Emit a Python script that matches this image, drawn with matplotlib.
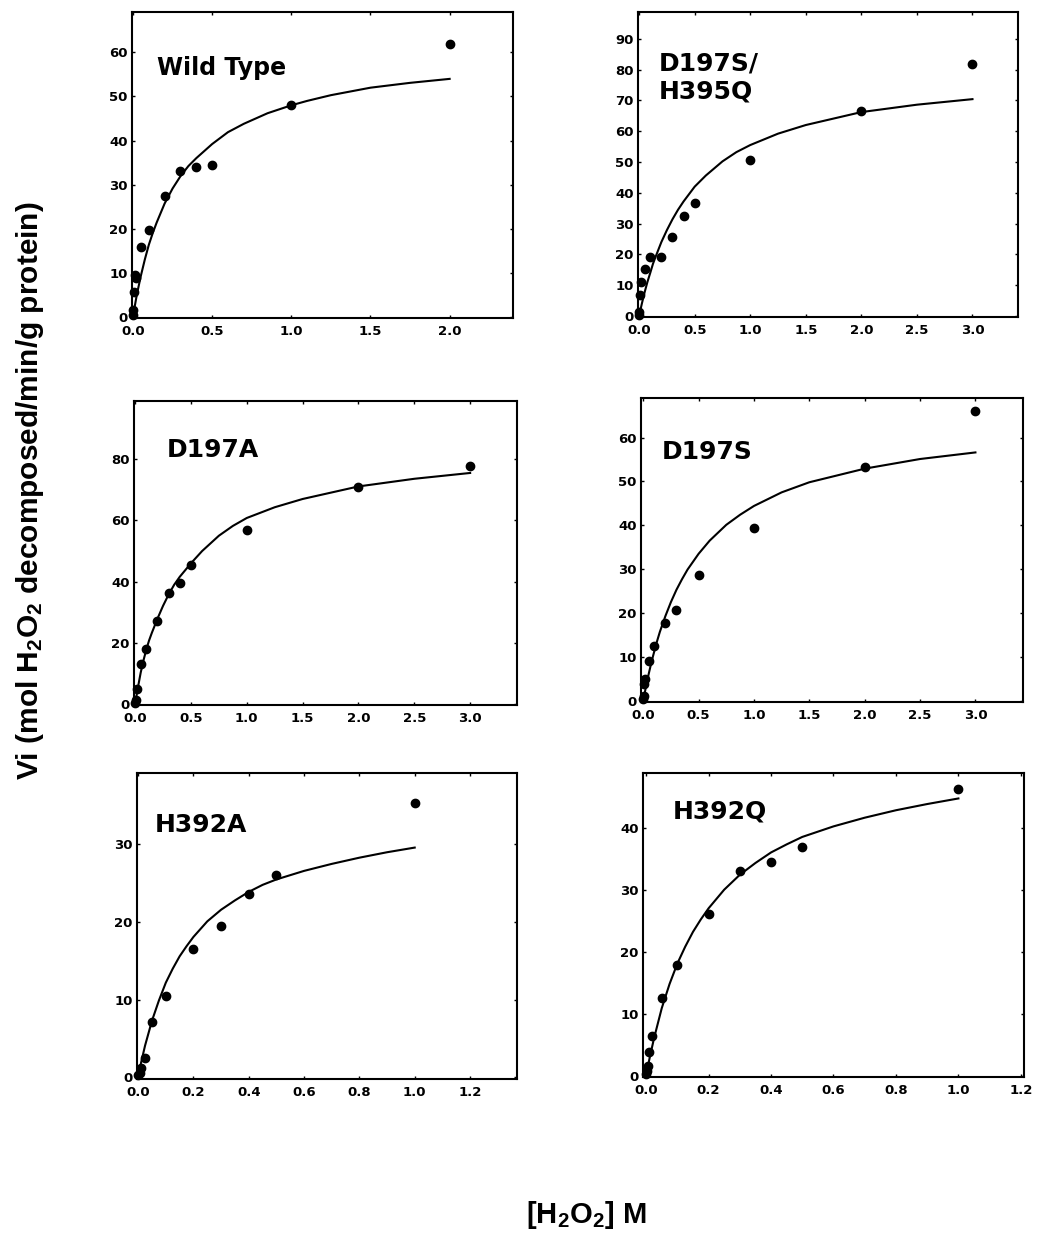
import numpy as np
import matplotlib
matplotlib.use('Agg')
from matplotlib import pyplot as plt
from matplotlib.ticker import FormatStrFormatter

plt.rcParams['font.family'] = ['DejaVu Sans']
plt.rcParams['font.weight'] = 'bold'
plt.rcParams['mathtext.fontset'] = 'custom'
plt.rcParams['mathtext.rm'] = 'Liberation Sans:bold'
plt.rcParams['mathtext.it'] = 'Liberation Sans:bold'
plt.rcParams['mathtext.bf'] = 'Liberation Sans:bold'

wt_x = [0, 0.002, 0.005, 0.01, 0.02, 0.05, 0.1, 0.2, 0.3, 0.4, 0.5, 1.0, 2.0]
wt_y = [0.3, 1.5, 5.7, 9.5, 8.8, 15.8, 19.6, 27.4, 33.1, 34.0, 34.5, 48.1, 62.0]
dq_x = [0, 0.002, 0.01, 0.02, 0.05, 0.1, 0.2, 0.3, 0.4, 0.5, 1.0, 2.0, 3.0]
dq_y = [0.3, 1.4, 6.8, 11.2, 15.2, 19.1, 19.3, 25.6, 32.5, 36.8, 50.7, 66.7, 81.8]
da_x = [0, 0.005, 0.02, 0.05, 0.1, 0.2, 0.3, 0.4, 0.5, 1.0, 2.0, 3.0]
da_y = [0.3, 1.2, 5.1, 13.0, 18.1, 27.1, 36.4, 39.6, 45.4, 57.0, 70.8, 77.8]
ds_x = [0, 0.005, 0.01, 0.02, 0.05, 0.1, 0.2, 0.3, 0.5, 1.0, 2.0, 3.0]
ds_y = [0.3, 1.1, 3.8, 4.9, 9.1, 12.4, 17.8, 20.7, 28.7, 39.3, 53.2, 66.1]
ha_x = [0, 0.005, 0.01, 0.025, 0.05, 0.1, 0.2, 0.3, 0.4, 0.5, 1.0]
ha_y = [0.3, 0.6, 1.2, 2.5, 7.2, 10.5, 16.5, 19.5, 23.6, 26.1, 35.4]
hq_x = [0, 0.002, 0.005, 0.01, 0.02, 0.05, 0.1, 0.2, 0.3, 0.4, 0.5, 1.0]
hq_y = [0.3, 0.8, 1.6, 3.8, 6.4, 12.6, 17.9, 26.0, 33.0, 34.5, 36.9, 46.3]

#  fitted curves
wt_cx = [0, 0.01, 0.025, 0.05, 0.075, 0.1, 0.125, 0.15, 0.2, 0.25, 0.3, 0.35, 0.4, 0.5,
         0.6, 0.7, 0.85, 1.0, 1.1, 1.25, 1.5, 1.75, 2.0]
wt_cy = [0, 2.1, 5.1, 9.3, 13.0, 16.3, 19.0, 21.4, 25.7, 29.1, 31.9, 34.2, 36.0, 39.2,
         41.9, 43.8, 46.2, 48.0, 49.0, 50.3, 52.0, 53.1, 54.0]
dq_cx = [0, 0.01, 0.025, 0.05, 0.075, 0.1, 0.125, 0.15, 0.2, 0.25, 0.3, 0.35, 0.4, 0.5,
         0.6, 0.75, 0.875, 1.0, 1.25, 1.5, 2.0, 2.5, 3.0]
dq_cy = [0, 1.7, 4.1, 7.8, 11.1, 14.0, 17.0, 19.4, 24.0, 27.9, 31.4, 34.5, 37.2, 42.0,
         45.6, 50.2, 53.2, 55.5, 59.2, 62.0, 66.2, 68.6, 70.4]
da_cx = [0, 0.01, 0.025, 0.05, 0.075, 0.1, 0.125, 0.15, 0.2, 0.25, 0.3, 0.35, 0.4, 0.5,
         0.6, 0.75, 0.875, 1.0, 1.25, 1.5, 2.0, 2.5, 3.0]
da_cy = [0, 2.2, 5.4, 10.3, 14.3, 17.8, 20.8, 23.3, 27.9, 32.1, 35.8, 39.0, 41.6, 46.0,
         50.0, 55.0, 58.2, 60.8, 64.3, 67.0, 71.1, 73.6, 75.5]
ds_cx = [0, 0.01, 0.025, 0.05, 0.075, 0.1, 0.125, 0.15, 0.2, 0.25, 0.3, 0.35, 0.4, 0.5,
         0.6, 0.75, 0.875, 1.0, 1.25, 1.5, 2.0, 2.5, 3.0]
ds_cy = [0, 1.3, 3.3, 6.2, 8.9, 11.3, 13.6, 15.7, 19.3, 22.5, 25.3, 27.7, 29.9, 33.5,
         36.5, 40.1, 42.4, 44.4, 47.5, 49.8, 52.9, 55.1, 56.6]
ha_cx = [0, 0.01, 0.025, 0.05, 0.075, 0.1, 0.125, 0.15, 0.175, 0.2, 0.25, 0.3, 0.35, 0.4,
         0.45, 0.5, 0.6, 0.7, 0.8, 0.9, 1.0]
ha_cy = [0, 1.8, 4.1, 7.3, 9.9, 12.2, 14.0, 15.6, 16.9, 18.1, 20.1, 21.6, 22.8, 23.9,
         24.8, 25.5, 26.6, 27.5, 28.3, 29.0, 29.6]
hq_cx = [0, 0.01, 0.025, 0.05, 0.075, 0.1, 0.125, 0.15, 0.175, 0.2, 0.25, 0.3, 0.35, 0.4,
         0.45, 0.5, 0.6, 0.7, 0.8, 0.9, 1.0]
hq_cy = [0, 2.6, 6.0, 10.9, 14.8, 18.1, 20.8, 23.2, 25.2, 27.0, 30.0, 32.4, 34.3, 36.0,
         37.3, 38.5, 40.2, 41.6, 42.8, 43.8, 44.7]

labels = ['Wild Type', 'D197S/\nH395Q', 'D197A', 'D197S', 'H392A', 'H392Q']

#  panel layout: rect, xlim, ylim, xticks, yticks, label position
panels = [
    ([0.1267, 0.7446, 0.3656, 0.2458], (-0.006, 2.4), (-0.3, 69.2),
     np.arange(0, 2.01, 0.5), np.arange(0, 61, 10), (0.066, 0.817)),
    ([0.6123, 0.7454, 0.3647, 0.2450], (-0.01, 3.41), (-0.3, 98.7),
     np.arange(0, 3.01, 0.5), np.arange(0, 91, 10), (0.055, 0.785)),
    ([0.1286, 0.4337, 0.3676, 0.2442], (-0.01, 3.42), (-0.3, 99.0),
     np.arange(0, 3.01, 0.5), np.arange(0, 81, 20), (0.086, 0.839)),
    ([0.6152, 0.4361, 0.3666, 0.2442], (-0.02, 3.43), (-0.3, 69.0),
     np.arange(0, 3.01, 0.5), np.arange(0, 61, 10), (0.055, 0.822)),
    ([0.1315, 0.1333, 0.3647, 0.2458], (-0.004, 1.37), (-0.2, 39.2),
     np.arange(0, 1.21, 0.2), np.arange(0, 31, 10), (0.047, 0.83)),
    ([0.6171, 0.1349, 0.3656, 0.2442], (-0.01, 1.21), (-0.2, 48.8),
     np.arange(0, 1.21, 0.2), np.arange(0, 41, 10), (0.079, 0.872)),
]

points = [(wt_x, wt_y), (dq_x, dq_y), (da_x, da_y), (ds_x, ds_y), (ha_x, ha_y), (hq_x, hq_y)]
curves = [(wt_cx, wt_cy), (dq_cx, dq_cy), (da_cx, da_cy), (ds_cx, ds_cy), (ha_cx, ha_cy), (hq_cx, hq_cy)]

fig = plt.figure(figsize=(10.42, 12.45), dpi=100)

for i in range(6):
    rect, xl, yl, xt, yt, lp = panels[i]
    ax = fig.add_axes(rect)
    ax.plot(curves[i][0], curves[i][1], color='black', lw=1.5)
    ax.plot(points[i][0], points[i][1], 'o', color='black', ms=6, clip_on=False)
    ax.set_xlim(*xl)
    ax.set_ylim(*yl)
    ax.set_xticks(xt)
    ax.set_yticks(yt)
    ax.xaxis.set_major_formatter(FormatStrFormatter('%.1f'))
    ax.yaxis.set_major_formatter(FormatStrFormatter('%d'))
    ax.tick_params(direction='in', length=2.5, width=1, top=True, right=True,
                   labelsize=9.5)
    ax.tick_params(axis='x', pad=5)
    ax.tick_params(axis='y', pad=3)
    for s in ax.spines.values():
        s.set_linewidth(1.5)
    fs = 17 if i == 0 else 18
    ax.text(lp[0], lp[1], labels[i], transform=ax.transAxes, fontsize=fs,
            fontweight='bold', va='center', ha='left', linespacing=1.25)

fig.text(0.029, 0.606, r'Vi (mol H$_2$O$_2$ decomposed/min/g protein)', rotation=90,
         fontsize=21.5, fontweight='bold', ha='center', va='center',
         family='Liberation Sans')
fig.text(0.563, 0.024, r'[H$_2$O$_2$] M', fontsize=21, fontweight='bold',
         ha='center', va='center', family='Liberation Sans')

fig.savefig('out.png', dpi=100)
